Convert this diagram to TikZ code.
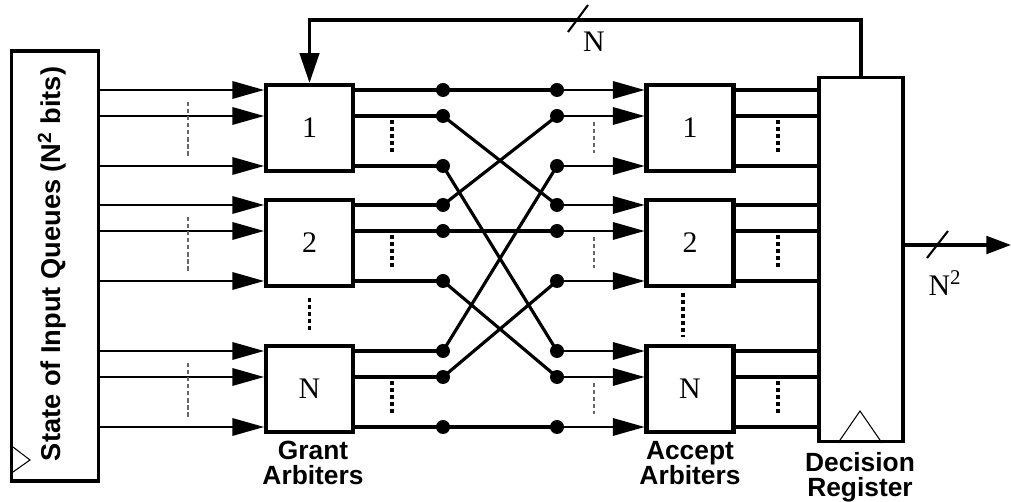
\documentclass[tikz,border=0pt]{standalone}
\usepackage{fontspec}
\setmainfont{Liberation Serif}
\newfontfamily\lblfont{Liberation Sans}
\usetikzlibrary{arrows.meta,calc}
\begin{document}
\begin{tikzpicture}[x=0.02cm,y=-0.02cm,
  arbbox/.style={draw,line width=2.3pt,minimum width=1.74cm,minimum height=1.72cm,inner sep=0pt,font=\fontsize{17}{17}\selectfont},
  statebox/.style={draw,line width=2pt,minimum width=1.74cm,minimum height=8.6cm,inner sep=0pt},
  regbox/.style={draw,line width=2pt,minimum width=1.68cm,minimum height=7.28cm,inner sep=0pt},
  dot/.style={circle,fill=black,minimum size=0.28cm,inner sep=0pt},
  inarrow/.style={line width=0.85pt,-{Triangle[length=18pt,width=10pt]}},
  gout/.style={line width=2.3pt},
  crossline/.style={line width=1.8pt},
  thickdots/.style={line width=2.2pt,dash pattern=on 2pt off 2pt},
  thindash/.style={line width=0.6pt,black!60,dash pattern=on 2.5pt off 1.5pt},
  clock/.style={line width=0.6pt},
  lbl/.style={font=\lblfont\bfseries\fontsize{15}{14.2}\selectfont,align=center,inner sep=0pt},
  serlbl/.style={font=\fontsize{17}{17}\selectfont,inner sep=0pt},
  bus/.style={line width=1.9pt}
]
\useasboundingbox (0,0) rectangle (1011,502);

% state of input queues
\node[statebox] (S) at (55,266) {};
\node[font=\lblfont\bfseries\fontsize{15.5}{16}\selectfont,rotate=90,inner sep=0pt] (Stext) at (52,264) {State of Input Queues (N\textsuperscript{2} bits)};
\draw[clock] (13,447) -- (30,460) -- (13,472);

% decision register
\node[regbox] (D) at (861,259.5) {};
\draw[clock] (838,443) -- (860,411) -- (882,443);

% arbiters
\foreach \g/\yc/\t in {1/128/1,2/243/2,3/389/N}{
  \node[arbbox] (G\g) at (309.5,\yc) {\t};
  \node[arbbox] (A\g) at (690,\yc) {\t};
}

% rows
\foreach \g/\yc in {1/128,2/243,3/389}{
  \foreach \r/\dy in {1/-38,2/-12,3/38}{
    \coordinate (Gin\g\r) at ($(G\g.west)+(0,\dy)$);
    \coordinate (Gout\g\r) at ($(G\g.east)+(0,\dy)$);
    \coordinate (Ain\g\r) at ($(A\g.west)+(0,\dy)$);
    \coordinate (Aout\g\r) at ($(A\g.east)+(0,\dy)$);
    \node[dot] (L\g\r) at (443,{\yc+\dy}) {};
    \node[dot] (R\g\r) at (557,{\yc+\dy}) {};
    \draw[inarrow] (S.east |- Gin\g\r) -- (Gin\g\r);
    \draw[gout] (Gout\g\r) -- (L\g\r.center);
    \draw[inarrow] (R\g\r.center) -- (Ain\g\r);
    \draw[gout] (Aout\g\r) -- (D.west |- Aout\g\r);
  }
  \draw[thindash] (188,{\yc-26}) -- (188,{\yc+30});
  \draw[thickdots] (392,{\yc-8}) -- (392,{\yc+25});
  \draw[thindash] (594,{\yc-6}) -- (594,{\yc+25});
  \draw[thickdots] (778,{\yc-8}) -- (778,{\yc+25});
}
\foreach \g in {1,2,3}{
  \foreach \r in {1,2,3}{
    \draw[crossline] (L\g\r.center) -- (R\r\g.center);
  }
}

% vertical dots between boxes
\draw[thickdots] ($(G2.south)+(0,10)$) -- ($(G3.north)+(0,-11)$);
\draw[thickdots] (683,293) -- (683,337);

% feedback
\coordinate (fbtop) at (861,20);
\draw[bus,-{Triangle[length=17pt,width=11pt]}] (D.north) -- (D.north |- fbtop) -| (G1.north);
\draw[line width=1.2pt] (568,32) -- (588,5);
\node[serlbl] (fbN) at (594,42) {N};

% output
\coordinate (out) at (1011,245);
\draw[bus,-{Triangle[length=14pt,width=10pt]}] (D.east |- out) -- (out);
\draw[line width=1.2pt] (927,258) -- (948,231);
\node[serlbl] (outN) at (945,283) {N\textsuperscript{2}};

% labels
\node[lbl] (gl) at (313,463) {Grant\\Arbiters};
\node[lbl] (al) at (690,463) {Accept\\Arbiters};
\node[lbl] (dl) at (860,477) {Decision\\Register};
\end{tikzpicture}
\end{document}
